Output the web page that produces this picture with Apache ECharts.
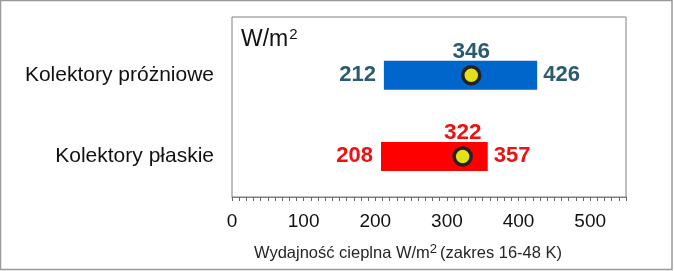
<!DOCTYPE html>
<html>
<head>
<meta charset="utf-8">
<script src="https://cdn.jsdelivr.net/npm/echarts@6/dist/echarts.min.js"></script>
<style>
html,body{margin:0;padding:0;background:#fff;}
#chart{width:674px;height:271px;}
</style>
</head>
<body>
<div id="chart"></div>
<script>
// ---- data ----
const categories = ['Kolektory płaskie', 'Kolektory próżniowe'];
const lowValues = [208, 212];
const highValues = [357, 426];
const meanLabels = [322, 346];
const markerValues = [322, 334];
const xTickLabels = [0, 100, 200, 300, 400, 500];

// ---- styles ----
const barColors = ['#ff0000', '#0066cc'];
const labelColors = ['#ee1111', '#2a5b70'];
const FONT = '"Liberation Sans", Arial, sans-serif';

const chart = echarts.init(document.getElementById('chart'), null, {renderer: 'canvas'});

const rangeData = categories.map((c, i) => [lowValues[i], highValues[i], i + 0.5]);
const markerData = categories.map((c, i) => ({value: [markerValues[i], i + 0.5], label: {color: labelColors[i]}}));

chart.setOption({
  animation: false,
  backgroundColor: '#ffffff',
  grid: {
    left: 232, right: 48, top: 17, bottom: 74,
    show: true, borderColor: '#7f7f7f', borderWidth: 1, backgroundColor: 'transparent'
  },
  xAxis: {
    type: 'value', min: 0, max: 550, interval: 10,
    axisLine: {show: true, lineStyle: {color: '#7f7f7f', width: 1}},
    axisTick: {show: true, length: 4, lineStyle: {color: '#666'}},
    splitLine: {show: false},
    axisLabel: {
      margin: 15, fontSize: 19, fontFamily: FONT, color: '#111',
      formatter: v => (xTickLabels.indexOf(v) >= 0 ? String(v) : '')
    },
    name: '{a|Wydajność cieplna W/m}{s|2}{a|(zakres 16-48 K)}',
    nameLocation: 'middle',
    nameGap: 46,
    nameTextStyle: {
      padding: [0, 42, 0, 0],
      rich: {
        a: {fontSize: 16.5, fontFamily: FONT, color: '#262626', lineHeight: 20},
        s: {fontSize: 13, fontFamily: FONT, color: '#262626', verticalAlign: 'top', lineHeight: 20, padding: [0, 3, 0, 0]}
      }
    }
  },
  yAxis: {
    type: 'value', min: 0, max: 2.217, interval: 0.5,
    axisLine: {show: false}, axisTick: {show: false}, splitLine: {show: false},
    axisLabel: {
      margin: 18, fontSize: 21, fontFamily: FONT, color: '#111', padding: [13, 0, 0, 0],
      showMaxLabel: false,
      formatter: v => {
        const i = v - 0.5;
        return (Number.isInteger(i) && categories[i]) ? categories[i] : '';
      }
    }
  },
  series: [
    {
      type: 'custom',
      data: rangeData,
      encode: {x: [0, 1], y: 2},
      renderItem: (params, api) => {
        const idx = params.dataIndex;
        const lo = api.coord([api.value(0), api.value(2)]);
        const hi = api.coord([api.value(1), api.value(2)]);
        const h = 29;
        const font = 'bold 22px ' + FONT;
        return {
          type: 'group',
          children: [
            {type: 'rect', shape: {x: lo[0], y: lo[1] - h / 2, width: hi[0] - lo[0], height: h},
             style: {fill: barColors[idx]}},
            {type: 'text', x: lo[0] - 8, y: lo[1],
             style: {text: String(api.value(0)), align: 'right', verticalAlign: 'middle', font: font, fill: labelColors[idx]}},
            {type: 'text', x: hi[0] + 6, y: lo[1],
             style: {text: String(api.value(1)), align: 'left', verticalAlign: 'middle', font: font, fill: labelColors[idx]}}
          ]
        };
      },
      z: 2
    },
    {
      type: 'scatter',
      data: markerData,
      symbol: 'circle',
      symbolSize: 17,
      itemStyle: {color: '#e4df1c', borderColor: '#222', borderWidth: 3.5, opacity: 1},
      label: {
        show: true, position: 'top', distance: 2,
        fontSize: 22.5, fontWeight: 'bold', fontFamily: FONT,
        formatter: p => String(meanLabels[p.dataIndex])
      },
      z: 3
    }
  ],
  graphic: [
    {
      type: 'rect', silent: true, z: 100,
      shape: {x: 0.5, y: 0.5, width: 671.5, height: 269},
      style: {fill: 'none', stroke: '#999', lineWidth: 1.5}
    },
    {
      type: 'text', x: 241, y: 27, z: 100,
      style: {
        text: '{a|W/m}{s|2}',
        rich: {
          a: {fontSize: 23, fontFamily: FONT, fill: '#111', lineHeight: 26},
          s: {fontSize: 15, fontFamily: FONT, fill: '#111', verticalAlign: 'top', lineHeight: 24, padding: [0, 0, 0, 1]}
        }
      }
    }
  ]
});
</script>
</body>
</html>
